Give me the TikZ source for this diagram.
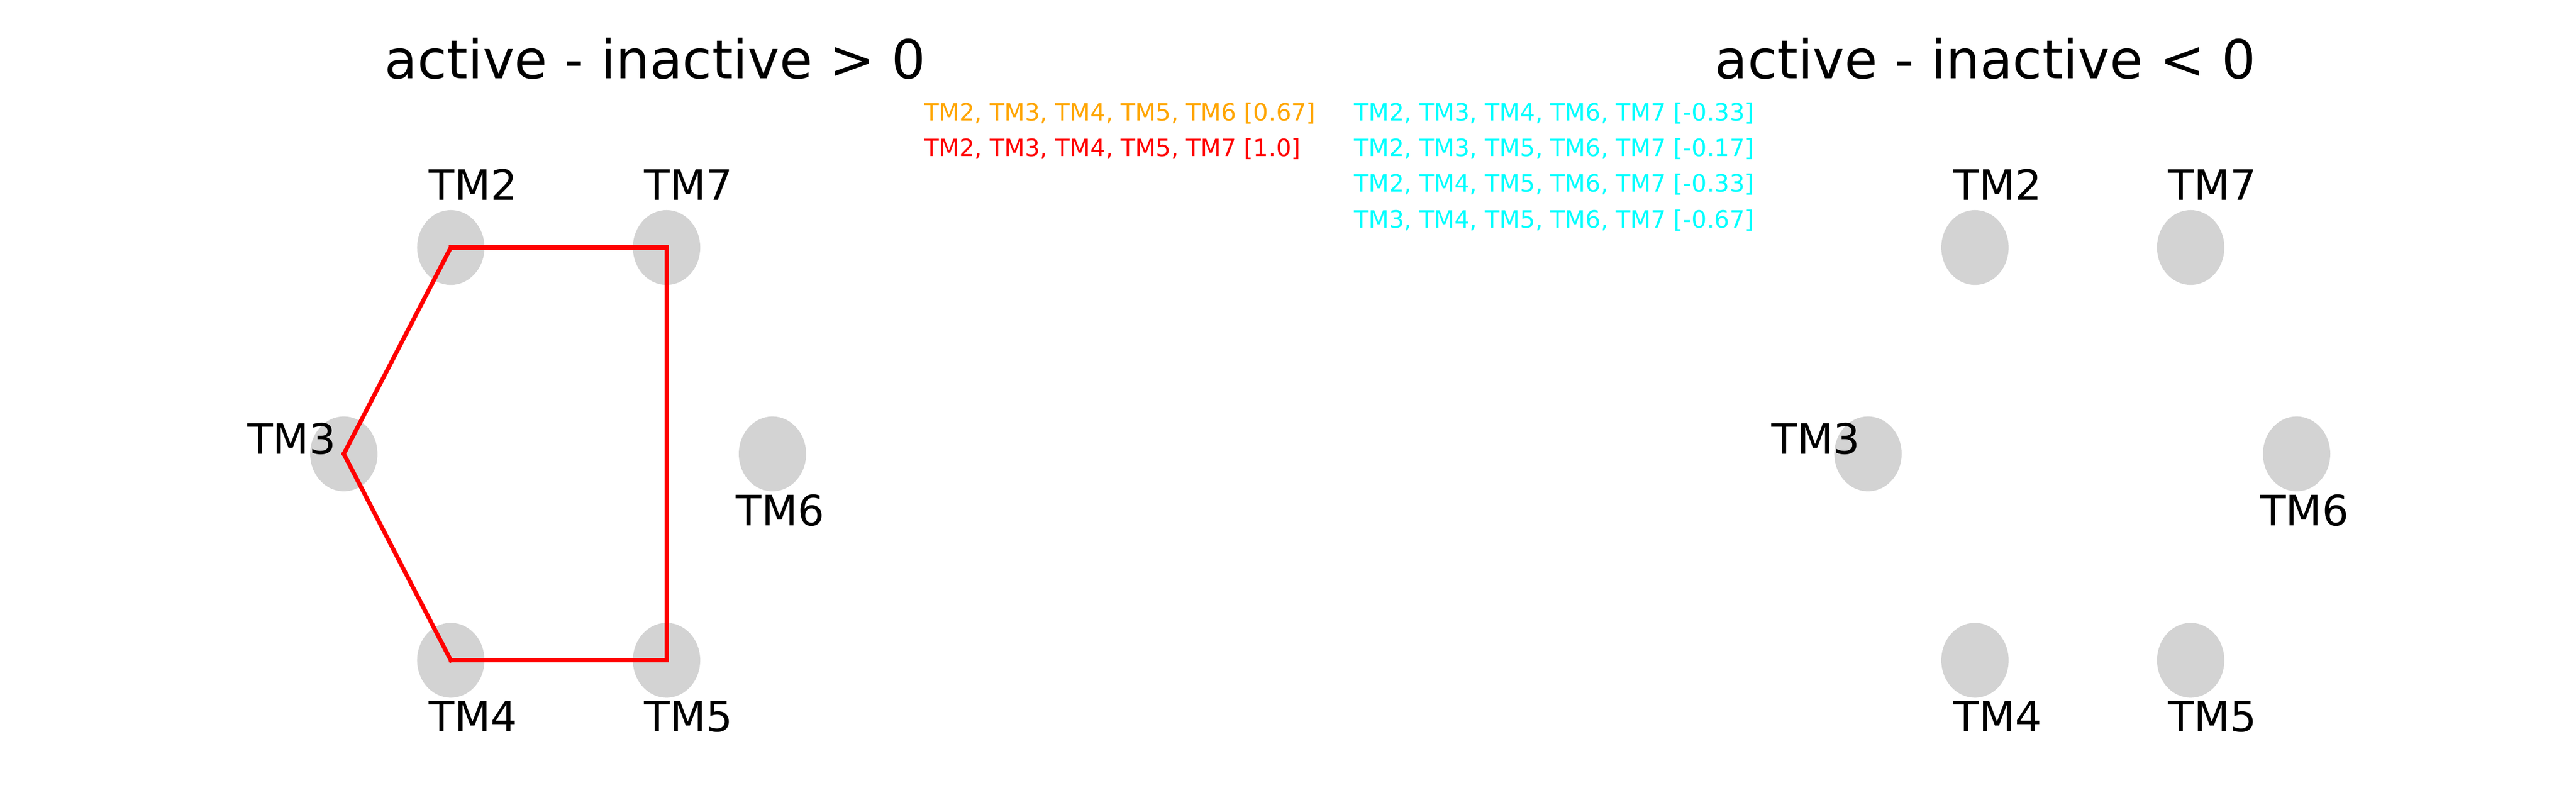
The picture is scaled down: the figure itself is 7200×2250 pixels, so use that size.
\documentclass[tikz,border=0pt]{standalone}
\usepackage{fontspec}
\setmainfont{DejaVu Sans}
\usetikzlibrary{shapes.geometric}
\definecolor{nodegray}{HTML}{D3D3D3}
\definecolor{mplorange}{HTML}{FFA500}
\definecolor{mplred}{HTML}{FF0000}
\definecolor{mplcyan}{HTML}{00FFFF}
\tikzset{
  tmnode/.style={ellipse, fill=nodegray, draw=none, inner sep=0pt,
    minimum width=1.88cm, minimum height=2.09cm},
  tmlabel/.style={anchor=base, inner sep=0pt, font=\fontsize{33.3}{40}\selectfont},
  ttl/.style={anchor=base, inner sep=0pt, font=\fontsize{42.6}{50}\selectfont},
  leg/.style={anchor=base west, inner sep=0pt, font=\fontsize{18.95}{23}\selectfont},
  cyc/.style={draw=mplred, line width=3.4pt, line cap=rect}
}
\begin{document}
\begin{tikzpicture}[x=0.01cm, y=-0.01cm]
\useasboundingbox (0,0) rectangle (7200,2250);
% titles
\node[ttl] (t1) at (1831,220) {active - inactive > 0};
\node[ttl] (t2) at (5549,220) {active - inactive < 0};
% legend texts
\node[leg, text=mplorange] (o1) at (2583,337) {TM2, TM3, TM4, TM5, TM6 [0.67]};
\node[leg, text=mplred] (r1) at (2583,437) {TM2, TM3, TM4, TM5, TM7 [1.0]};
\node[leg, text=mplcyan] (c1) at (3784,337) {TM2, TM3, TM4, TM6, TM7 [-0.33]};
\node[leg, text=mplcyan] (c2) at (3784,437) {TM2, TM3, TM5, TM6, TM7 [-0.17]};
\node[leg, text=mplcyan] (c3) at (3784,537) {TM2, TM4, TM5, TM6, TM7 [-0.33]};
\node[leg, text=mplcyan] (c4) at (3784,637) {TM3, TM4, TM5, TM6, TM7 [-0.67]};
% left panel nodes
\node[tmnode] (L2) at (1260,692) {};
\node[tmnode] (L7) at (1863,692) {};
\node[tmnode] (L3) at (961,1269) {};
\node[tmnode] (L6) at (2159,1269) {};
\node[tmnode] (L4) at (1260,1846) {};
\node[tmnode] (L5) at (1863,1846) {};
% left panel cycle
\draw[cyc] (L2.center) -- (L7.center);
\draw[cyc] (L7.center) -- (L5.center);
\draw[cyc] (L5.center) -- (L4.center);
\draw[cyc] (L4.center) -- (L3.center);
\draw[cyc] (L3.center) -- (L2.center);
% left panel labels
\node[tmlabel] (lL2) at (1323,559) {TM2};
\node[tmlabel] (lL7) at (1924,559) {TM7};
\node[tmlabel] (lL3) at (815,1270) {TM3};
\node[tmlabel] (lL6) at (2181,1469) {TM6};
\node[tmlabel] (lL4) at (1323,2046) {TM4};
\node[tmlabel] (lL5) at (1924,2046) {TM5};
% right panel nodes
\node[tmnode] (R2) at (5520,692) {};
\node[tmnode] (R7) at (6123,692) {};
\node[tmnode] (R3) at (5221,1269) {};
\node[tmnode] (R6) at (6419,1269) {};
\node[tmnode] (R4) at (5520,1846) {};
\node[tmnode] (R5) at (6123,1846) {};
% right panel labels
\node[tmlabel] (lR2) at (5583,559) {TM2};
\node[tmlabel] (lR7) at (6184,559) {TM7};
\node[tmlabel] (lR3) at (5075,1270) {TM3};
\node[tmlabel] (lR6) at (6441,1469) {TM6};
\node[tmlabel] (lR4) at (5583,2046) {TM4};
\node[tmlabel] (lR5) at (6184,2046) {TM5};
\end{tikzpicture}
\end{document}
